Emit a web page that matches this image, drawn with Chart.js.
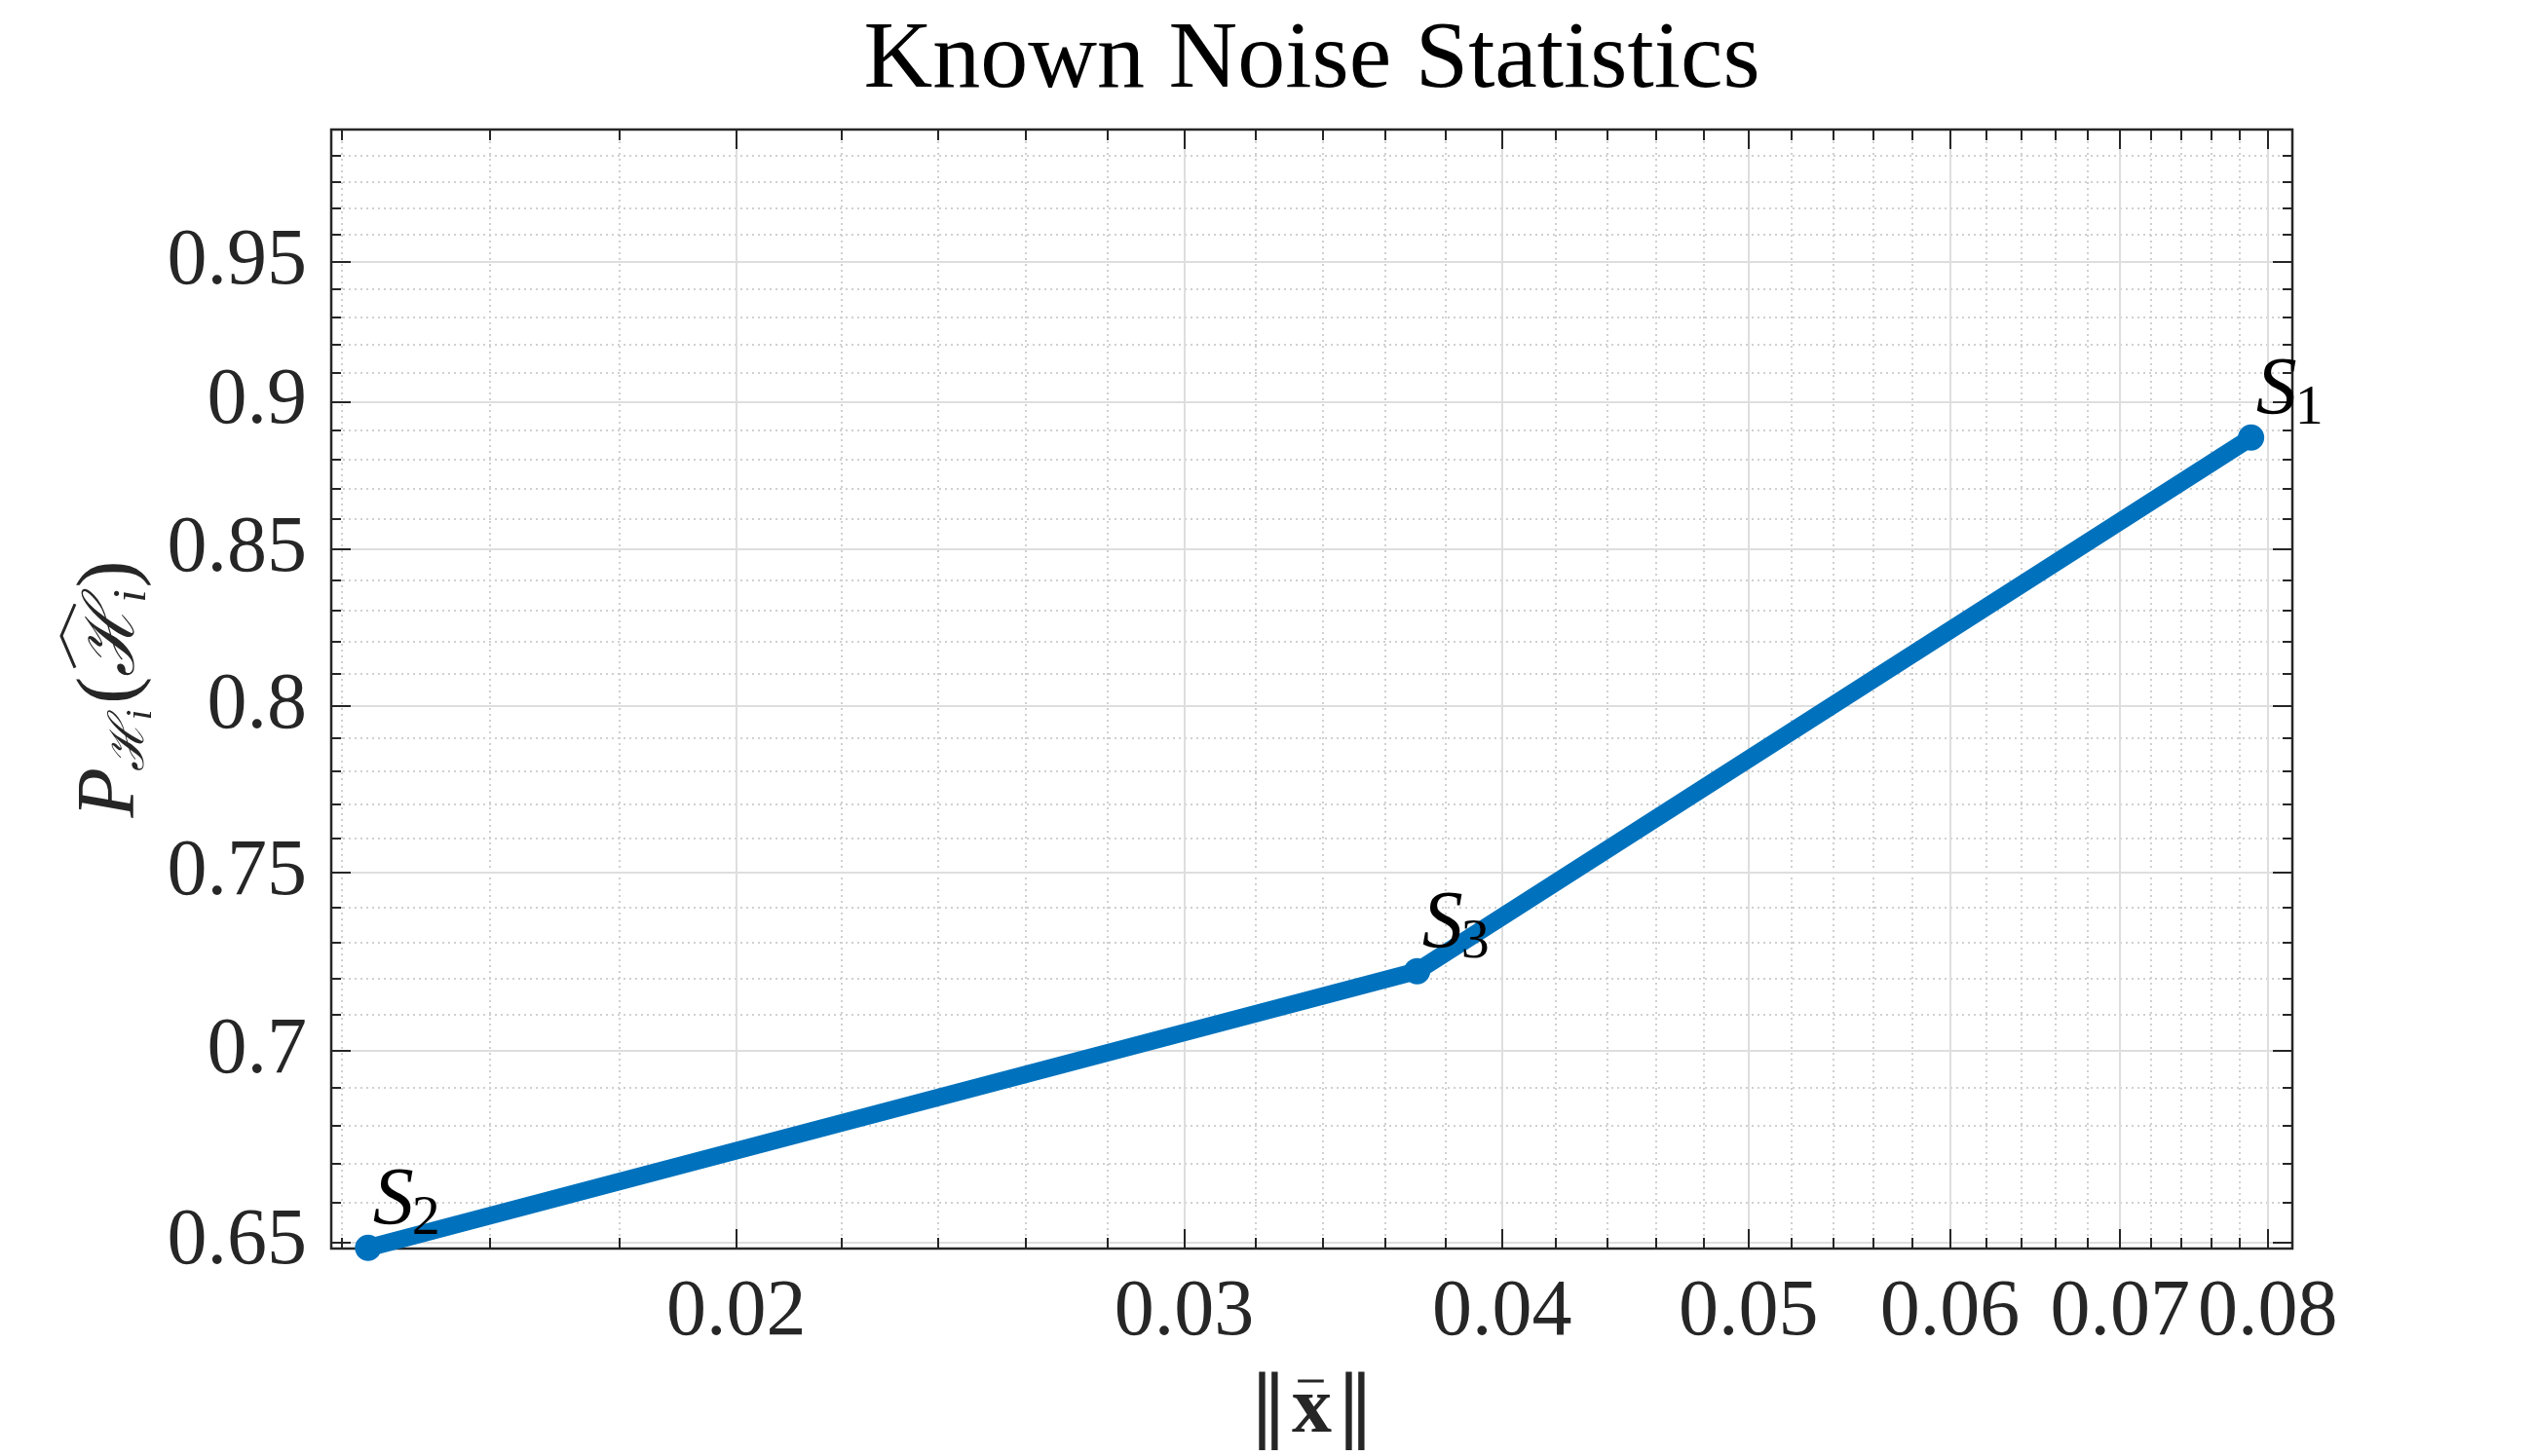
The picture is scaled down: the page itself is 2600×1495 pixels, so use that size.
<!DOCTYPE html>
<html>
<head>
<meta charset="utf-8">
<title>Known Noise Statistics</title>
<script src="https://cdn.jsdelivr.net/npm/chart.js@4.4.1/dist/chart.umd.min.js"></script>
<style>
    html, body { margin: 0; padding: 0; background: #fff; }
    canvas { display: block; }
</style>
</head>
<body>
<canvas id="noiseChart" width="2600" height="1495"></canvas>
<script>
// values (log-log axes)
const normX = [0.01433, 0.03704, 0.0788];
const probH = [0.6487, 0.7220, 0.8876];
const pointSubs = ['2', '3', '1'];   // S_2, S_3, S_1

const xRange = [0.01386, 0.0818];
const yRange = [0.6485, 1.0];

const xMajor = [0.02, 0.03, 0.04, 0.05, 0.06, 0.07, 0.08];
const xMajorLabels = ['0.02', '0.03', '0.04', '0.05', '0.06', '0.07', '0.08'];
const xMinor = [0.014, 0.016, 0.018, 0.022, 0.024, 0.026, 0.028, 0.032, 0.034, 0.036, 0.038,
    0.042, 0.044, 0.046, 0.048, 0.052, 0.054, 0.056, 0.058, 0.062, 0.064, 0.066, 0.068,
    0.072, 0.074, 0.076, 0.078];

const yMajor = [0.65, 0.7, 0.75, 0.8, 0.85, 0.9, 0.95, 1.0];
const yMajorLabels = ['0.65', '0.7', '0.75', '0.8', '0.85', '0.9', '0.95', ''];
const yMinor = [0.66, 0.67, 0.68, 0.69, 0.71, 0.72, 0.73, 0.74, 0.76, 0.77, 0.78, 0.79,
    0.81, 0.82, 0.83, 0.84, 0.86, 0.87, 0.88, 0.89, 0.91, 0.92, 0.93, 0.94,
    0.96, 0.97, 0.98, 0.99];

const titleText = 'Known Noise Statistics';

const SERIF = '"Liberation Serif", "DejaVu Serif", serif';
const INK = '#262626';
const LINE_BLUE = '#0072BD';

function labelFor(value, majors, labels) {
    const i = majors.findIndex(m => Math.abs(m - value) < 1e-9);
    return i >= 0 ? labels[i] : '';
}

function tickList(majors, minors) {
    return majors.concat(minors)
        .sort((a, b) => a - b)
        .map(v => ({ value: v }));
}

function seg(ctx, x1, y1, x2, y2) {
    ctx.beginPath();
    ctx.moveTo(x1, y1);
    ctx.lineTo(x2, y2);
    ctx.stroke();
}

// grid, box and inward ticks, matlab style (drawn under the data)
const frameAndGrid = {
    id: 'frameAndGrid',
    beforeDatasetsDraw(chart) {
        const { ctx, chartArea: a, scales: { x, y } } = chart;
        ctx.save();

        // minor grid, dotted
        ctx.lineWidth = 2;
        ctx.strokeStyle = '#d0d0d0';
        ctx.setLineDash([2, 4]);
        xMinor.forEach(v => {
            const px = Math.round(x.getPixelForValue(v));
            seg(ctx, px, a.top, px, a.bottom);
        });
        yMinor.forEach(v => {
            const py = Math.round(y.getPixelForValue(v));
            seg(ctx, a.left, py, a.right, py);
        });

        // major grid, solid
        ctx.setLineDash([]);
        ctx.strokeStyle = '#dedede';
        xMajor.forEach(v => {
            const px = Math.round(x.getPixelForValue(v));
            seg(ctx, px, a.top, px, a.bottom);
        });
        yMajor.forEach(v => {
            const py = Math.round(y.getPixelForValue(v));
            seg(ctx, a.left, py, a.right, py);
        });

        // ticks on all four sides
        ctx.strokeStyle = INK;
        ctx.lineWidth = 2;
        const xTick = (v, len) => {
            const px = Math.round(x.getPixelForValue(v));
            seg(ctx, px, a.bottom, px, a.bottom - len);
            seg(ctx, px, a.top, px, a.top + len);
        };
        const yTick = (v, len) => {
            const py = Math.round(y.getPixelForValue(v));
            seg(ctx, a.left, py, a.left + len, py);
            seg(ctx, a.right, py, a.right - len, py);
        };
        xMinor.forEach(v => xTick(v, 11));
        xMajor.forEach(v => xTick(v, 20));
        yMinor.forEach(v => yTick(v, 10));
        yMajor.forEach(v => yTick(v, 20));

        // box
        ctx.lineWidth = 2.5;
        ctx.strokeRect(a.left, a.top, a.right - a.left, a.bottom - a.top);
        ctx.restore();
    }
};

// S_i annotations next to each marker
const pointNames = {
    id: 'pointNames',
    afterDatasetsDraw(chart) {
        const { ctx } = chart;
        const meta = chart.getDatasetMeta(0);
        ctx.save();
        ctx.fillStyle = '#000';
        ctx.textBaseline = 'alphabetic';
        ctx.textAlign = 'left';
        meta.data.forEach((pt, i) => {
            const bx = pt.x + 5;
            const by = pt.y - 24;
            ctx.font = 'italic 84px ' + SERIF;
            ctx.fillText('S', bx, by);
            const w = ctx.measureText('S').width;
            ctx.font = '58px ' + SERIF;
            ctx.fillText(pointSubs[i], bx + w - 2, by + 10);
        });
        ctx.restore();
    }
};

function drawYLabel(ctx, baseX, centerY) {
    const italic = sz => 'italic ' + sz + 'px ' + SERIF;
    const script = sz => 'italic ' + sz + 'px "DejaVu Serif", serif';
    const upright = sz => sz + 'px ' + SERIF;
    const parts = [
        { t: 'P', font: italic(84), dy: 0 },
        { t: 'ℋ', font: script(50), dy: 10, kern: -4 },
        { t: 'i', font: italic(38), dy: 18 },
        { t: '(', font: upright(84), dy: 0, kern: 6 },
        { t: 'ℋ', font: script(72), dy: 0, hat: true },
        { t: 'i', font: italic(48), dy: 12 },
        { t: ')', font: upright(84), dy: 0, kern: 2 }
    ];
    ctx.save();
    let total = 0;
    parts.forEach(p => {
        ctx.font = p.font;
        p.w = ctx.measureText(p.t).width;
        total += p.w + (p.kern || 0);
    });
    ctx.translate(baseX, centerY);
    ctx.rotate(-Math.PI / 2);
    ctx.fillStyle = INK;
    ctx.strokeStyle = INK;
    ctx.textBaseline = 'alphabetic';
    ctx.textAlign = 'left';
    let cx = -total / 2;
    parts.forEach(p => {
        cx += (p.kern || 0);
        ctx.font = p.font;
        ctx.fillText(p.t, cx, p.dy);
        if (p.hat) {
            ctx.lineWidth = 3;
            ctx.beginPath();
            ctx.moveTo(cx + p.w * 0.12, -60);
            ctx.lineTo(cx + p.w * 0.55, -74);
            ctx.lineTo(cx + p.w * 0.98, -60);
            ctx.stroke();
        }
        cx += p.w;
    });
    ctx.restore();
}

function drawXLabel(ctx, centerX, baseline) {
    ctx.save();
    ctx.fillStyle = INK;
    ctx.strokeStyle = INK;
    ctx.textBaseline = 'alphabetic';
    ctx.textAlign = 'left';
    const barFont = '80px "DejaVu Serif", serif';
    const xFont = 'bold 82px ' + SERIF;
    ctx.font = barFont;
    const wBar = ctx.measureText('‖').width;
    ctx.font = xFont;
    const wX = ctx.measureText('x').width;
    const gap = 4;
    let cx = centerX - (2 * wBar + wX + 2 * gap) / 2;
    ctx.font = barFont;
    ctx.fillText('‖', cx, baseline);
    cx += wBar + gap;
    ctx.font = xFont;
    ctx.fillText('x', cx, baseline);
    ctx.lineWidth = 3;
    seg(ctx, cx + wX * 0.15, baseline - 52, cx + wX * 0.8, baseline - 52);
    cx += wX + gap;
    ctx.font = barFont;
    ctx.fillText('‖', cx, baseline);
    ctx.restore();
}

const titlesAndLabels = {
    id: 'titlesAndLabels',
    afterDraw(chart) {
        const { ctx, chartArea: a } = chart;
        const midX = (a.left + a.right) / 2;
        const midY = (a.top + a.bottom) / 2;
        ctx.save();
        ctx.fillStyle = '#000';
        ctx.font = '98px ' + SERIF;
        ctx.textAlign = 'center';
        ctx.textBaseline = 'alphabetic';
        ctx.fillText(titleText, midX, 89);
        ctx.restore();
        drawXLabel(ctx, midX, 1470);
        drawYLabel(ctx, 137, midY);
    }
};

const ctx = document.getElementById('noiseChart');

new Chart(ctx, {
    type: 'line',
    data: {
        datasets: [{
            data: normX.map((v, i) => ({ x: v, y: probH[i] })),
            borderColor: LINE_BLUE,
            backgroundColor: LINE_BLUE,
            borderWidth: 18,
            borderJoinStyle: 'round',
            borderCapStyle: 'round',
            pointStyle: 'circle',
            pointRadius: 13.5,
            pointBorderWidth: 0,
            pointBackgroundColor: LINE_BLUE,
            tension: 0,
            clip: false
        }]
    },
    options: {
        responsive: false,
        animation: false,
        devicePixelRatio: 1,
        layout: { padding: { top: 133, right: 247, left: 0, bottom: 0 } },
        plugins: {
            legend: { display: false },
            tooltip: { enabled: false }
        },
        scales: {
            x: {
                type: 'logarithmic',
                min: xRange[0],
                max: xRange[1],
                afterBuildTicks(scale) { scale.ticks = tickList(xMajor, xMinor); },
                afterFit(scale) { scale.height = 213; },
                grid: { display: false, drawTicks: false },
                border: { display: false },
                ticks: {
                    autoSkip: false,
                    maxRotation: 0,
                    minRotation: 0,
                    padding: 17,
                    color: INK,
                    font: { family: SERIF, size: 82 },
                    callback: value => labelFor(value, xMajor, xMajorLabels)
                }
            },
            y: {
                type: 'logarithmic',
                min: yRange[0],
                max: yRange[1],
                afterBuildTicks(scale) { scale.ticks = tickList(yMajor, yMinor); },
                afterFit(scale) { scale.width = 340; },
                grid: { display: false, drawTicks: false },
                border: { display: false },
                ticks: {
                    autoSkip: false,
                    padding: 25,
                    color: INK,
                    font: { family: SERIF, size: 82 },
                    callback: value => labelFor(value, yMajor, yMajorLabels)
                }
            }
        }
    },
    plugins: [frameAndGrid, pointNames, titlesAndLabels]
});
</script>
</body>
</html>
